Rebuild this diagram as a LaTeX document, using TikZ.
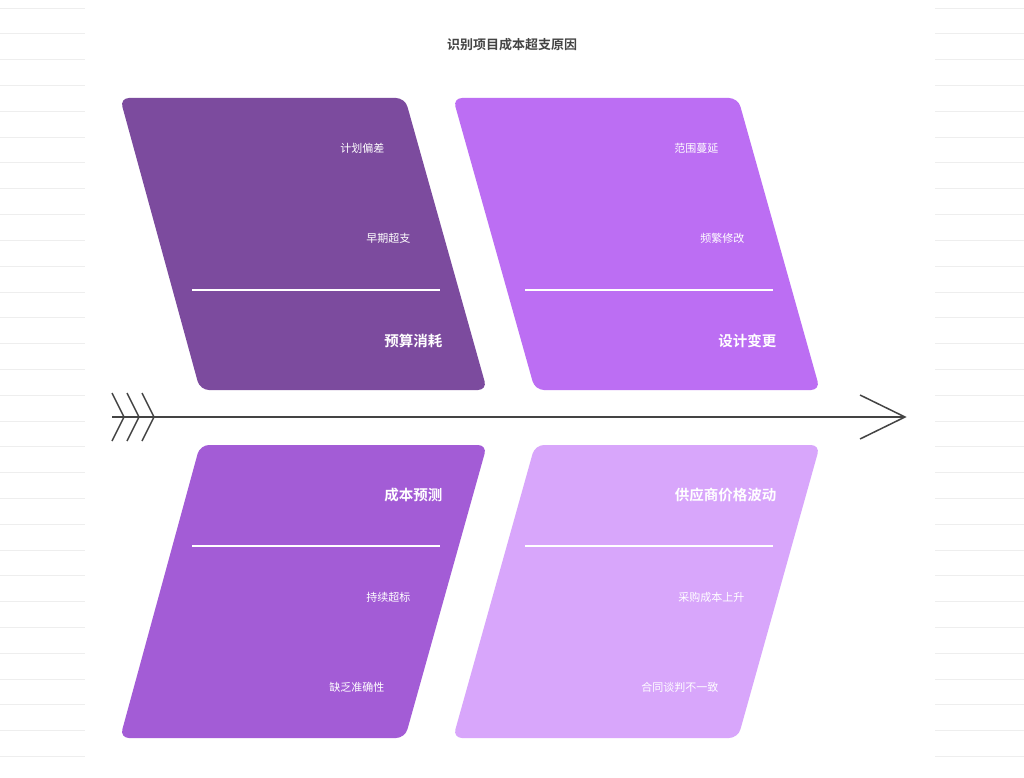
\documentclass[tikz,border=0pt]{standalone}
\usepackage{fontspec}
\newfontfamily\cjk{Noto Sans CJK SC}
\newfontfamily\cjkb{Noto Sans CJK SC Bold}
\definecolor{cA}{HTML}{7C4B9E}
\definecolor{cB}{HTML}{BC6EF3}
\definecolor{cC}{HTML}{A35CD6}
\definecolor{cD}{HTML}{D8A6FB}
\definecolor{bgl}{HTML}{EEEEEE}
\definecolor{ink}{HTML}{444444}
\tikzset{x=1pt,y=-1pt,
 panel/.style={rounded corners=9pt,draw=none},
 item/.style={anchor=east,text=white,font=\cjk\fontsize{11}{13}\selectfont},
 head/.style={anchor=east,text=white,font=\cjkb\fontsize{14.5}{17}\selectfont},
 div/.style={white,line width=1.3pt},
 spine/.style={ink,line width=1.5pt,line join=miter}}
\begin{document}
\begin{tikzpicture}
\useasboundingbox (0,0) rectangle (1024,778);
\fill[white] (0,0) rectangle (1024,778);
\foreach \i in {0,...,29}{
 \draw[bgl,line width=0.6pt] (0,8+25.8*\i) -- (85,8+25.8*\i);
 \draw[bgl,line width=0.6pt] (935,8+25.8*\i) -- (1024,8+25.8*\i);}
\node[font=\cjkb\fontsize{13}{15}\selectfont,text=ink] (title) at (512,45) {识别项目成本超支原因};
\fill[cA,panel] (120,98) -- (405,98) -- (487,390) -- (200,390) -- cycle;
\fill[cB,panel] (453,98) -- (738,98) -- (820,390) -- (535,390) -- cycle;
\fill[cC,panel] (200,445) -- (487,445) -- (405,738) -- (120,738) -- cycle;
\fill[cD,panel] (535,445) -- (820,445) -- (738,738) -- (453,738) -- cycle;
\draw[div] (192,290) -- (440,290);
\draw[div] (525,290) -- (773,290);
\draw[div] (192,546) -- (440,546);
\draw[div] (525,546) -- (773,546);
\node[item] (a1) at (388,148) {计划偏差};
\node[item] (a2) at (414,238) {早期超支};
\node[head] (a0) at (446,341) {预算消耗};
\node[item] (b1) at (722,148) {范围蔓延};
\node[item] (b2) at (748,238) {频繁修改};
\node[head] (b0) at (780,341) {设计变更};
\node[head] (c0) at (446,495) {成本预测};
\node[item] (c1) at (414,597) {持续超标};
\node[item] (c2) at (388,687) {缺乏准确性};
\node[head] (d0) at (780,495) {供应商价格波动};
\node[item] (d1) at (748,597) {采购成本上升};
\node[item] (d2) at (722,687) {合同谈判不一致};
\coordinate (s0) at (112,417);
\coordinate (s1) at (905,417);
\draw[spine] (s0) -- (s1);
\draw[spine] (860,395) -- (s1) -- (860,439);
\foreach \x in {112,127,142}{\draw[spine] (\x,393) -- (\x+12,417) -- (\x,441);}
\end{tikzpicture}
\end{document}
